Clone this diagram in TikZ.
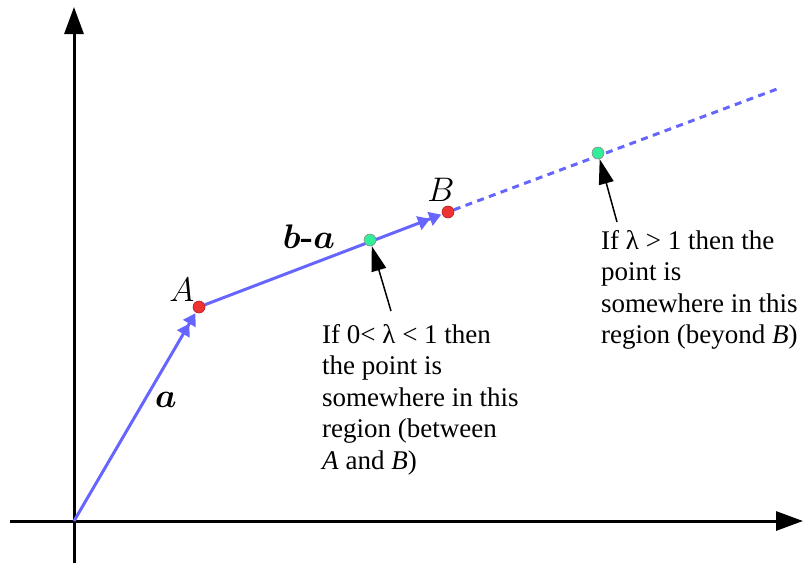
\documentclass[tikz,border=0pt]{standalone}
\usepackage{graphicx}
\usepackage{fontspec}
\usepackage{amsmath}
\usepackage{bm}
\newfontfamily\txtfont{Liberation Serif}
\usetikzlibrary{arrows.meta}
\definecolor{vecblue}{RGB}{102,102,255}
\definecolor{ptred}{RGB}{238,51,51}
\definecolor{ptgreen}{RGB}{51,238,153}
\newcommand{\biglbl}[1]{\scalebox{1.37}{\Huge #1}}
\begin{document}
\begin{tikzpicture}[x=1pt,y=-1pt,
  axis/.style={line width=3pt,black,-{Triangle[length=27pt,width=19pt]}},
  vec/.style={line width=3pt,vecblue,-{Triangle[length=12pt,width=14pt] Triangle[length=12pt,width=14pt]},shorten >=1pt},
  dash line/.style={line width=3pt,vecblue,dash pattern=on 7pt off 5.5pt},
  reddot/.style={circle,fill=ptred,draw=ptred!70!black,line width=0.4pt,minimum size=12pt,inner sep=0pt},
  greendot/.style={circle,fill=ptgreen,draw=black!45,line width=0.6pt,minimum size=12pt,inner sep=0pt},
  pointer/.style={line width=1.5pt,black,-{Triangle[length=25pt,width=15pt]}},
  ptlabel/.style={inner sep=0pt},
  note/.style={font=\txtfont\fontsize{27}{31.5}\selectfont,align=left,anchor=north west,inner sep=0pt}
  ]
\useasboundingbox (0,0) rectangle (803,563);
% axes
\coordinate (ybot) at (74,563);
\coordinate (ytop) at (74,7);
\coordinate (xleft) at (10,521);
\coordinate (xright) at (803,521);
\draw[axis] (ybot) -- (ytop);
\draw[axis] (xleft) -- (xright);
% points
\coordinate (O) at (74,521);
\node[reddot] (A) at (199,307) {};
\node[reddot] (B) at (448,212) {};
\coordinate (E) at (777,89);
% vectors
\draw[dash line] (B) -- (E);
\draw[vec] (O) -- (A);
\draw[vec] (A) -- (B);
\node[greendot] (M) at (370,240) {};
\node[greendot] (P) at (598,153) {};
\node[reddot] at (A) {};
\node[reddot] at (B) {};
% labels
\node[ptlabel] (la) at (182,290) {\biglbl{$A$}};
\node[ptlabel] (lb) at (441,190) {\biglbl{$B$}};
\node[ptlabel] (lba) at (309,237) {\biglbl{$\bm{b}$\textbf{-}$\bm{a}$}};
\node[ptlabel] (lav) at (166,400) {\biglbl{$\bm{a}$}};
% notes
\node[note] (n1) at (322,324) {If 0< λ < 1 then\\the point is\\somewhere in this\\region (between\\\textit{A} and \textit{B})};
\node[note] (n2) at (601,230) {If λ > 1 then the\\point is\\somewhere in this\\region (beyond \textit{B})};
\coordinate (t1) at (391,311);
\coordinate (t2) at (617,222);
\draw[pointer] (t1) -- (M);
\draw[pointer] (t2) -- (P);
\end{tikzpicture}
\end{document}
